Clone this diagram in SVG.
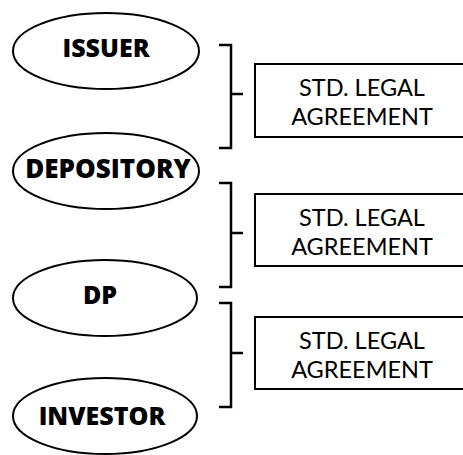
<svg xmlns="http://www.w3.org/2000/svg" width="463" height="455" viewBox="0 0 463 455">
<style>
.ell{fill:#fff;stroke:#000;stroke-width:2}
.box{fill:#fff;stroke:#000;stroke-width:2}
.lbl{font-family:"Open Sans","DejaVu Sans",sans-serif;font-weight:800;font-size:25px;fill:#000;text-anchor:middle}
.agr{font-family:Lato,"Open Sans",sans-serif;font-size:23.5px;fill:#000;text-anchor:middle}
.br{fill:none;stroke:#000;stroke-width:2.5}
</style>
<rect width="463" height="455" fill="#fff"/>
<g id="issuer"><ellipse class="ell" cx="106" cy="51" rx="93" ry="38"/><text class="lbl" x="106" y="57">ISSUER</text></g>
<g id="depository"><ellipse class="ell" cx="106" cy="171" rx="93" ry="38"/><text class="lbl" x="108" y="178" style="font-size:26px">DEPOSITORY</text></g>
<g id="dp"><ellipse class="ell" cx="105" cy="298" rx="92" ry="38"/><text class="lbl" x="100" y="304">DP</text></g>
<g id="investor"><ellipse class="ell" cx="105" cy="416" rx="92" ry="38"/><text class="lbl" x="102" y="425">INVESTOR</text></g>
<g id="agreement1"><rect class="box" x="255" y="64" width="212" height="73"/><text class="agr" x="362" y="96">STD. LEGAL</text><text class="agr" x="362" y="125">AGREEMENT</text></g>
<g id="agreement2"><rect class="box" x="255" y="194" width="212" height="72"/><text class="agr" x="362" y="226">STD. LEGAL</text><text class="agr" x="362" y="255">AGREEMENT</text></g>
<g id="agreement3"><rect class="box" x="255" y="317" width="212" height="72"/><text class="agr" x="362" y="349">STD. LEGAL</text><text class="agr" x="362" y="378">AGREEMENT</text></g>
<g id="connectors">
<path class="br" d="M219 45H231V148H219M231 94H243"/>
<path class="br" d="M219 183H231V287H219M231 233H243"/>
<path class="br" d="M219 303H231V407H219M231 353H243"/>
</g>
</svg>
